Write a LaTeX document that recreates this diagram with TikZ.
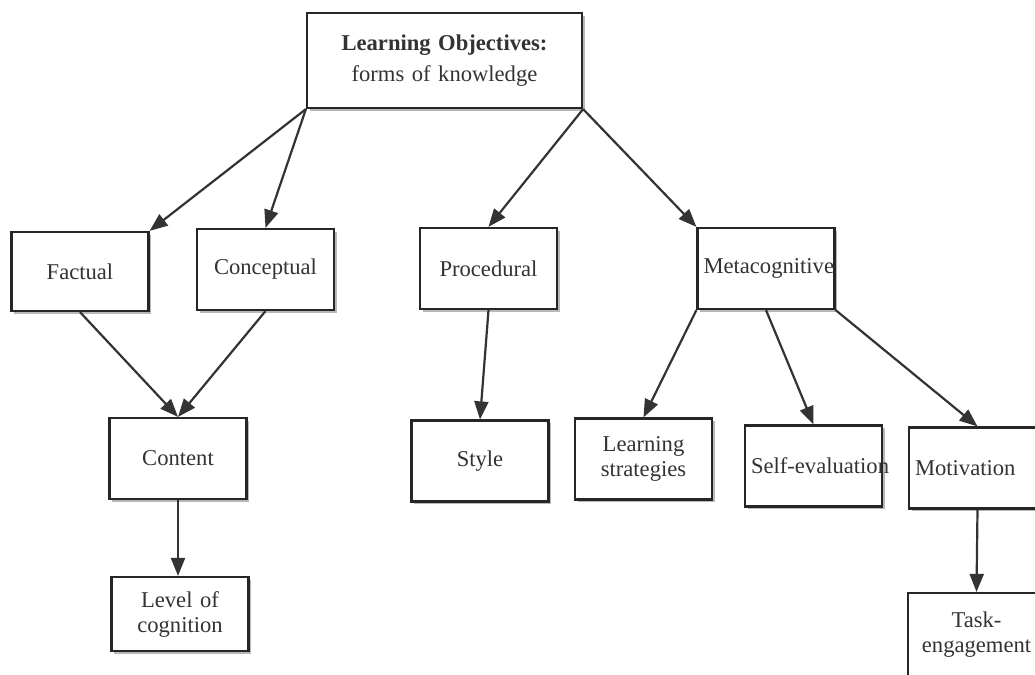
\documentclass[tikz,border=0pt]{standalone}
\usepackage{fontspec}
\setmainfont{Liberation Serif}
\usetikzlibrary{arrows.meta,shadows}
\begin{document}
\begin{tikzpicture}[x=0.5pt,y=-0.5pt,line width=1.1pt,>={Triangle[length=9pt,width=7pt]},font=\fontsize{11.3}{12.5}\selectfont,
	objbox/.style={draw=black!85,fill=white,text=black!80,text width=62.5pt,align=center,inner xsep=3pt,minimum height=40.5pt,drop shadow={shadow xshift=1.3pt,shadow yshift=-1.3pt,fill=black!35,opacity=0.8}},
	link/.style={->,draw=black!80}]
	\useasboundingbox (0,0) rectangle (1035,675);
	\node[objbox,text width=131.5pt,minimum height=47.5pt] (obj) at (444.5,60.5) {\textbf{Learning Objectives:}\\[3pt]forms of knowledge};
	\node[objbox,minimum height=39.5pt] (factual) at (80,271.5) {Factual};
	\node[objbox] (concept) at (265.5,269.5) {Conceptual};
	\node[objbox] (proced) at (488.5,268.5) {Procedural};
	\node[objbox] (metacog) at (766,268.5) {\mbox{Metacognitive}};
	\node[objbox] (content) at (178,458.5) {Content};
	\node[objbox,minimum height=37pt] (level) at (180,614) {Level of\\cognition};
	\node[objbox] (style) at (480,461) {Style};
	\node[objbox] (strat) at (643.5,459) {Learning\\strategies};
	\node[objbox] (selfev) at (813.5,466) {\mbox{Self-evaluation}};
	\node[objbox,align=left] (motiv) at (977.5,468) {Motivation};
	\node[objbox,minimum height=42pt] (task) at (976.5,635) {Task-\\\mbox{engagement}};
	\draw[link] (obj.south west)--(factual.north east);
	\draw[link] (obj.south west)--(concept.north);
	\draw[link] (obj.south east)--(proced.north);
	\draw[link] (obj.south east)--(metacog.north west);
	\draw[link] (factual.south)--(content.north);
	\draw[link] (concept.south)--(content.north);
	\draw[link] (content.south)--(content.south|-level.north);
	\draw[link] (proced.south)--(style.north);
	\draw[link] (metacog.south west)--(strat.north);
	\draw[link] (metacog.south)--(selfev.north);
	\draw[link] (metacog.south east)--(motiv.north);
	\draw[link] (motiv.south)--(task.north);
\end{tikzpicture}
\end{document}
